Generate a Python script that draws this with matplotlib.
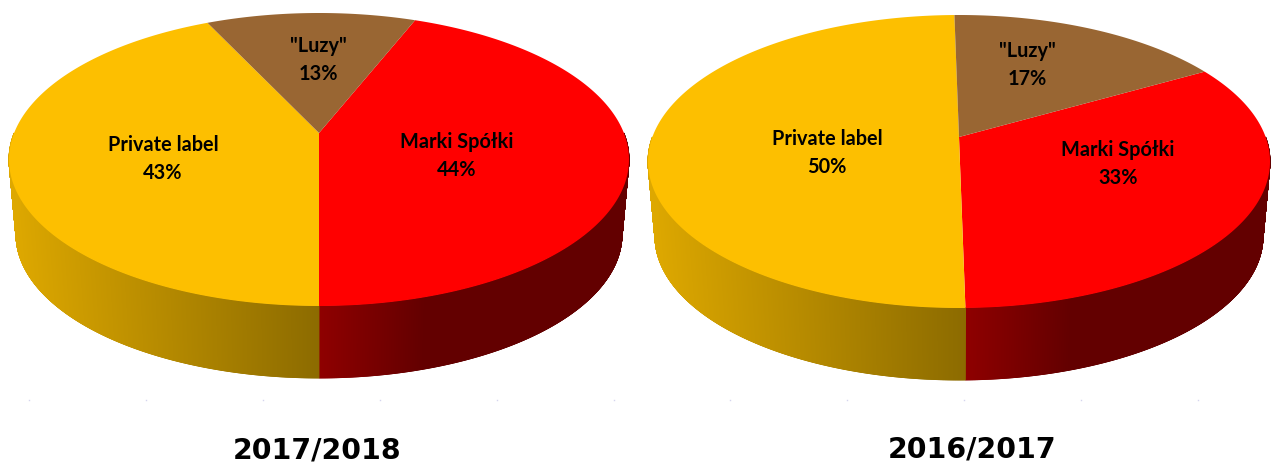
import numpy as np
import matplotlib
matplotlib.use('Agg')
import matplotlib.pyplot as plt
from matplotlib.patches import Polygon
from matplotlib.collections import PolyCollection

# shares in percent, clockwise from the start angle
names = ['Marki Spółki', 'Private label', '"Luzy"']
shares_1718 = [44, 43, 13]
shares_1617 = [33, 50, 17]
title_1718 = '2017/2018'
title_1617 = '2016/2017'

top_colors = ['#ff0000', '#fdbf00', '#996633']
# side wall colours (left end, right end of the wall)
side_red = ((0.56, 0, 0), (0.39, 0, 0))
side_yellow = ((0.87, 0.66, 0), (0.55, 0.42, 0))


def project(deg, cx, apex_y, top_y, bottom_y, half_w):
    # circle seen in perspective: the centre lands on apex_y, not mid ellipse
    t = np.radians(deg)
    c = (2 * apex_y - top_y - bottom_y) / (bottom_y - top_y)
    a = bottom_y * (1 + c) - apex_y
    r = half_w * np.sqrt(1 - c ** 2)
    depth = -np.cos(t)
    w = 1 + c * depth
    return cx + r * np.sin(t) / w, (a * depth + apex_y) / w


def draw_pie(ax, shares, start, cx, apex_y, top_y, bottom_y, half_w, drop):
    edges = start + np.cumsum([0] + list(shares)) * 3.6

    # side wall first, only the front part of the rim shows
    for i in range(2):
        a = np.arange(edges[i], edges[i + 1] + 0.1, 0.1)
        a = a[(a >= 90) & (a <= 270)]
        if len(a) == 0:
            continue
        x, y = project(a, cx, apex_y, top_y, bottom_y, half_w)
        shrink = 1 - 7.0 / half_w
        xb = cx + (x - cx) * shrink
        yb = bottom_y + drop - (bottom_y - y) * 0.98
        quads = []
        cols = []
        wall = side_red if i == 0 else side_yellow
        if i == 0:
            lo, hi = x.min(), x.min() + 105
        else:
            lo, hi = x.min(), x.max()
        for j in range(len(a) - 1):
            quads.append([(x[j], y[j]), (x[j + 1], y[j + 1]), (xb[j + 1], yb[j + 1]), (xb[j], yb[j])])
            f = np.clip((x[j] - lo) / (hi - lo), 0, 1)
            cols.append(tuple(wall[0][k] + f * (wall[1][k] - wall[0][k]) for k in range(3)))
        ax.add_collection(PolyCollection(quads, facecolors=cols, edgecolors=cols, linewidths=0.6, zorder=1))

    # top face
    for i in range(3):
        a = np.linspace(edges[i], edges[i + 1], 200)
        x, y = project(a, cx, apex_y, top_y, bottom_y, half_w)
        pts = [(cx, apex_y)] + list(zip(x, y))
        ax.add_patch(Polygon(pts, closed=True, fc=top_colors[i], ec='none', zorder=2))


fig = plt.figure(figsize=(12.72, 4.62), dpi=100)
ax = fig.add_axes([0, 0, 1, 1])
ax.set_xlim(0, 1272)
ax.set_ylim(462, 0)
ax.axis('off')

draw_pie(ax, shares_1718, 21.6, 319, 133, 13, 306, 310, 72)
draw_pie(ax, shares_1617, 60.2, 959, 137, 15, 308, 311, 72)


def pie_label(x, y, name, value):
    ax.text(x, y, name + '\n' + str(value) + '%', ha='center', va='center', family='Lato',
            fontweight='bold', fontsize=14.3, color='black', linespacing=1.47, zorder=3)


pie_label(163, 159, names[1], shares_1718[1])
pie_label(457, 156, names[0], shares_1718[0])
pie_label(318, 60, names[2], shares_1718[2])
pie_label(827, 153, names[1], shares_1617[1])
pie_label(1118, 164, names[0], shares_1617[0])
pie_label(1027, 65, names[2], shares_1617[2])

ax.text(317, 458.5, title_1718, ha='center', va='baseline', family='DejaVu Sans', fontweight='bold', fontsize=20.4)
ax.text(972, 457.5, title_1617, ha='center', va='baseline', family='DejaVu Sans', fontweight='bold', fontsize=20.4)

# faint leftover tick dots under the pies
ax.plot(np.arange(11) * 116.9 + 29, [400] * 11, ls='none', marker='s', ms=1.0, mew=0, color='#d5d5ee')

fig.savefig('out.png', dpi=100, facecolor='white')
